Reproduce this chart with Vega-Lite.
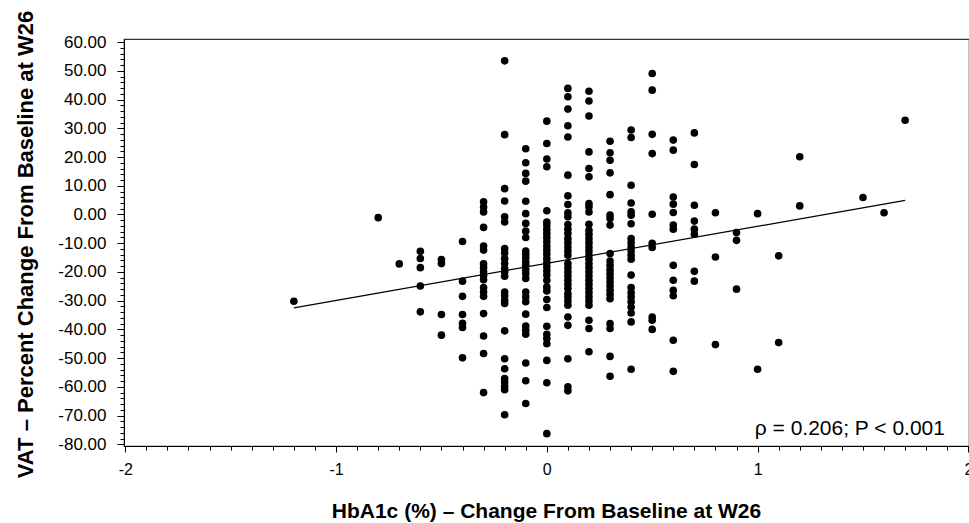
{
  "$schema": "https://vega.github.io/schema/vega-lite/v6.json",
  "width": 845,
  "height": 407,
  "autosize": "none",
  "padding": {"left": 124, "top": 39, "right": 0, "bottom": 77},
  "background": "white",
  "config": {
    "view": {"stroke": "#333333", "strokeWidth": 1.2},
    "font": "Liberation Sans"
  },
  "resolve": {"axis": {"x": "independent", "y": "independent"}},
  "datasets": {
    "pts": [
      {"x": -1.2, "y": -30.2},
      {"x": -0.8, "y": -1.1},
      {"x": -0.7, "y": -17.2},
      {"x": -0.6, "y": -12.8}, {"x": -0.6, "y": -15.3}, {"x": -0.6, "y": -18.5}, {"x": -0.6, "y": -24.9}, {"x": -0.6, "y": -33.9},
      {"x": -0.5, "y": -15.7}, {"x": -0.5, "y": -17.1}, {"x": -0.5, "y": -34.8}, {"x": -0.5, "y": -42.0},
      {"x": -0.4, "y": -9.4}, {"x": -0.4, "y": -23.2}, {"x": -0.4, "y": -28.5}, {"x": -0.4, "y": -34.8}, {"x": -0.4, "y": -37.9}, {"x": -0.4, "y": -39.3}, {"x": -0.4, "y": -49.9},
      {"x": -0.3, "y": 4.4}, {"x": -0.3, "y": 2.6}, {"x": -0.3, "y": 0.9}, {"x": -0.3, "y": -4.5}, {"x": -0.3, "y": -11.0}, {"x": -0.3, "y": -12.4}, {"x": -0.3, "y": -17.2}, {"x": -0.3, "y": -18.5}, {"x": -0.3, "y": -19.9}, {"x": -0.3, "y": -21.3}, {"x": -0.3, "y": -22.7}, {"x": -0.3, "y": -25.4}, {"x": -0.3, "y": -27.0}, {"x": -0.3, "y": -28.5}, {"x": -0.3, "y": -34.5}, {"x": -0.3, "y": -42.3}, {"x": -0.3, "y": -48.4}, {"x": -0.3, "y": -62.0},
      {"x": -0.2, "y": 53.5}, {"x": -0.2, "y": 27.8}, {"x": -0.2, "y": 9.0}, {"x": -0.2, "y": 4.7}, {"x": -0.2, "y": -0.8}, {"x": -0.2, "y": -2.6}, {"x": -0.2, "y": -11.9}, {"x": -0.2, "y": -13.4}, {"x": -0.2, "y": -15.3}, {"x": -0.2, "y": -17.1}, {"x": -0.2, "y": -18.8}, {"x": -0.2, "y": -20.0}, {"x": -0.2, "y": -21.5}, {"x": -0.2, "y": -27.0}, {"x": -0.2, "y": -28.3}, {"x": -0.2, "y": -29.9}, {"x": -0.2, "y": -31.0}, {"x": -0.2, "y": -40.5}, {"x": -0.2, "y": -50.2}, {"x": -0.2, "y": -53.7}, {"x": -0.2, "y": -57.1}, {"x": -0.2, "y": -58.3}, {"x": -0.2, "y": -59.8}, {"x": -0.2, "y": -61.0}, {"x": -0.2, "y": -69.7},
      {"x": -0.1, "y": 22.9}, {"x": -0.1, "y": 18.0}, {"x": -0.1, "y": 14.3}, {"x": -0.1, "y": 11.6}, {"x": -0.1, "y": 4.6}, {"x": -0.1, "y": 0.3}, {"x": -0.1, "y": -3.1}, {"x": -0.1, "y": -5.8}, {"x": -0.1, "y": -8.0}, {"x": -0.1, "y": -12.7}, {"x": -0.1, "y": -13.8}, {"x": -0.1, "y": -15.1}, {"x": -0.1, "y": -16.5}, {"x": -0.1, "y": -17.7}, {"x": -0.1, "y": -19.2}, {"x": -0.1, "y": -20.6}, {"x": -0.1, "y": -22.3}, {"x": -0.1, "y": -27.0}, {"x": -0.1, "y": -28.7}, {"x": -0.1, "y": -30.4}, {"x": -0.1, "y": -34.7}, {"x": -0.1, "y": -38.8}, {"x": -0.1, "y": -40.3}, {"x": -0.1, "y": -41.7}, {"x": -0.1, "y": -51.7}, {"x": -0.1, "y": -57.9}, {"x": -0.1, "y": -65.8},
      {"x": 0, "y": 32.5}, {"x": 0, "y": 24.7}, {"x": 0, "y": 19.3}, {"x": 0, "y": 16.6}, {"x": 0, "y": 1.3}, {"x": 0, "y": -2.6}, {"x": 0, "y": -3.7}, {"x": 0, "y": -5.2}, {"x": 0, "y": -6.6}, {"x": 0, "y": -8.0}, {"x": 0, "y": -9.5}, {"x": 0, "y": -11.0}, {"x": 0, "y": -12.4}, {"x": 0, "y": -13.8}, {"x": 0, "y": -15.3}, {"x": 0, "y": -16.7}, {"x": 0, "y": -18.2}, {"x": 0, "y": -19.6}, {"x": 0, "y": -21.1}, {"x": 0, "y": -22.9}, {"x": 0, "y": -25.2}, {"x": 0, "y": -26.6}, {"x": 0, "y": -29.6}, {"x": 0, "y": -32.4}, {"x": 0, "y": -38.9}, {"x": 0, "y": -41.7}, {"x": 0, "y": -43.2}, {"x": 0, "y": -45.0}, {"x": 0, "y": -50.8}, {"x": 0, "y": -58.6}, {"x": 0, "y": -76.3},
      {"x": 0.1, "y": 43.9}, {"x": 0.1, "y": 41.0}, {"x": 0.1, "y": 36.7}, {"x": 0.1, "y": 30.9}, {"x": 0.1, "y": 27.0}, {"x": 0.1, "y": 13.7}, {"x": 0.1, "y": 6.5}, {"x": 0.1, "y": 3.5}, {"x": 0.1, "y": 0.6}, {"x": 0.1, "y": -0.8}, {"x": 0.1, "y": -3.5}, {"x": 0.1, "y": -5.1}, {"x": 0.1, "y": -6.6}, {"x": 0.1, "y": -8.4}, {"x": 0.1, "y": -9.8}, {"x": 0.1, "y": -11.3}, {"x": 0.1, "y": -12.7}, {"x": 0.1, "y": -14.2}, {"x": 0.1, "y": -17.1}, {"x": 0.1, "y": -18.5}, {"x": 0.1, "y": -20.0}, {"x": 0.1, "y": -21.4}, {"x": 0.1, "y": -22.9}, {"x": 0.1, "y": -24.3}, {"x": 0.1, "y": -25.8}, {"x": 0.1, "y": -27.5}, {"x": 0.1, "y": -28.7}, {"x": 0.1, "y": -30.1}, {"x": 0.1, "y": -31.6}, {"x": 0.1, "y": -35.7}, {"x": 0.1, "y": -38.6}, {"x": 0.1, "y": -50.2}, {"x": 0.1, "y": -60.0}, {"x": 0.1, "y": -61.4},
      {"x": 0.2, "y": 42.9}, {"x": 0.2, "y": 39.5}, {"x": 0.2, "y": 34.3}, {"x": 0.2, "y": 21.8}, {"x": 0.2, "y": 16.0}, {"x": 0.2, "y": 13.1}, {"x": 0.2, "y": 3.8}, {"x": 0.2, "y": 2.7}, {"x": 0.2, "y": 0.9}, {"x": 0.2, "y": -3.4}, {"x": 0.2, "y": -5.5}, {"x": 0.2, "y": -6.9}, {"x": 0.2, "y": -8.4}, {"x": 0.2, "y": -9.8}, {"x": 0.2, "y": -11.3}, {"x": 0.2, "y": -12.7}, {"x": 0.2, "y": -14.2}, {"x": 0.2, "y": -15.6}, {"x": 0.2, "y": -17.1}, {"x": 0.2, "y": -18.5}, {"x": 0.2, "y": -20.0}, {"x": 0.2, "y": -21.4}, {"x": 0.2, "y": -22.9}, {"x": 0.2, "y": -24.3}, {"x": 0.2, "y": -25.8}, {"x": 0.2, "y": -27.2}, {"x": 0.2, "y": -28.7}, {"x": 0.2, "y": -30.1}, {"x": 0.2, "y": -31.6}, {"x": 0.2, "y": -36.8}, {"x": 0.2, "y": -39.7}, {"x": 0.2, "y": -47.8},
      {"x": 0.3, "y": 25.5}, {"x": 0.3, "y": 21.5}, {"x": 0.3, "y": 18.9}, {"x": 0.3, "y": 14.5}, {"x": 0.3, "y": 6.9}, {"x": 0.3, "y": -0.2}, {"x": 0.3, "y": -1.4}, {"x": 0.3, "y": -3.7}, {"x": 0.3, "y": -13.6}, {"x": 0.3, "y": -16.2}, {"x": 0.3, "y": -17.7}, {"x": 0.3, "y": -19.2}, {"x": 0.3, "y": -20.6}, {"x": 0.3, "y": -22.0}, {"x": 0.3, "y": -23.5}, {"x": 0.3, "y": -24.9}, {"x": 0.3, "y": -26.4}, {"x": 0.3, "y": -27.8}, {"x": 0.3, "y": -29.3}, {"x": 0.3, "y": -38.0}, {"x": 0.3, "y": -39.7}, {"x": 0.3, "y": -49.4}, {"x": 0.3, "y": -56.3},
      {"x": 0.4, "y": 29.4}, {"x": 0.4, "y": 26.8}, {"x": 0.4, "y": 10.2}, {"x": 0.4, "y": 4.0}, {"x": 0.4, "y": 0.9}, {"x": 0.4, "y": -0.3}, {"x": 0.4, "y": -3.2}, {"x": 0.4, "y": -8.4}, {"x": 0.4, "y": -9.8}, {"x": 0.4, "y": -11.3}, {"x": 0.4, "y": -12.7}, {"x": 0.4, "y": -14.2}, {"x": 0.4, "y": -15.6}, {"x": 0.4, "y": -21.1}, {"x": 0.4, "y": -25.4}, {"x": 0.4, "y": -27.2}, {"x": 0.4, "y": -28.7}, {"x": 0.4, "y": -30.4}, {"x": 0.4, "y": -32.2}, {"x": 0.4, "y": -34.3}, {"x": 0.4, "y": -37.4}, {"x": 0.4, "y": -53.9},
      {"x": 0.5, "y": 49.1}, {"x": 0.5, "y": 43.3}, {"x": 0.5, "y": 27.9}, {"x": 0.5, "y": 21.2}, {"x": 0.5, "y": 0.1}, {"x": 0.5, "y": -10.0}, {"x": 0.5, "y": -11.5}, {"x": 0.5, "y": -35.7}, {"x": 0.5, "y": -36.8}, {"x": 0.5, "y": -40.0},
      {"x": 0.6, "y": 25.9}, {"x": 0.6, "y": 22.4}, {"x": 0.6, "y": 6.1}, {"x": 0.6, "y": 3.6}, {"x": 0.6, "y": 0.7}, {"x": 0.6, "y": -3.7}, {"x": 0.6, "y": -5.1}, {"x": 0.6, "y": -17.7}, {"x": 0.6, "y": -22.9}, {"x": 0.6, "y": -26.4}, {"x": 0.6, "y": -28.3}, {"x": 0.6, "y": -43.8}, {"x": 0.6, "y": -54.6},
      {"x": 0.7, "y": 28.4}, {"x": 0.7, "y": 17.4}, {"x": 0.7, "y": 3.2}, {"x": 0.7, "y": -2.3}, {"x": 0.7, "y": -5.1}, {"x": 0.7, "y": -6.9}, {"x": 0.7, "y": -19.8}, {"x": 0.7, "y": -23.2},
      {"x": 0.8, "y": 0.6}, {"x": 0.8, "y": -14.8}, {"x": 0.8, "y": -45.3},
      {"x": 0.9, "y": -6.3}, {"x": 0.9, "y": -9.0}, {"x": 0.9, "y": -26.0},
      {"x": 1.0, "y": 0.3}, {"x": 1.0, "y": -53.9},
      {"x": 1.1, "y": -14.4}, {"x": 1.1, "y": -44.6},
      {"x": 1.2, "y": 20.1}, {"x": 1.2, "y": 3.0},
      {"x": 1.5, "y": 5.9},
      {"x": 1.6, "y": 0.6},
      {"x": 1.7, "y": 32.8}
    ],
    "fit": [
      {"x": -1.2, "y": -32.5},
      {"x": 1.7, "y": 4.9}
    ],
    "note": [
      {"x": 1.889, "y": -76.9, "label": "ρ = 0.206; P < 0.001"}
    ]
  },
  "layer": [
    {
      "data": {"name": "pts"},
      "mark": {"type": "circle", "size": 58, "color": "black", "opacity": 1},
      "encoding": {
        "x": {
          "field": "x", "type": "quantitative",
          "scale": {"domain": [-2.006, 2.003], "nice": false, "zero": false},
          "axis": {
            "orient": "bottom",
            "values": [-2, -1, 0, 1, 2],
            "format": "d",
            "labelExpr": "replace(datum.label, '\u2212', '-')",
            "tickSize": 6,
            "tickColor": "black",
            "domainColor": "black",
            "labelColor": "black",
            "labelFont": "Liberation Sans",
            "labelFontSize": 16,
            "labelPadding": 9,
            "labelFlush": false,
            "labelOverlap": false,
            "grid": false,
            "title": "HbA1c (%) – Change From Baseline at W26",
            "titleFont": "Liberation Sans",
            "titleFontSize": 21,
            "titleFontWeight": "bold",
            "titleColor": "black",
            "titleX": 422,
            "titleY": 71,
            "titleAlign": "center",
            "titleBaseline": "alphabetic"
          }
        },
        "y": {
          "field": "y", "type": "quantitative",
          "scale": {"domain": [-80.6, 61.1], "nice": false, "zero": false},
          "axis": {
            "orient": "left",
            "values": [-80, -70, -60, -50, -40, -30, -20, -10, 0, 10, 20, 30, 40, 50, 60],
            "format": ".2f",
            "labelExpr": "replace(datum.label, '\u2212', '-')",
            "tickSize": 7,
            "tickColor": "black",
            "domainColor": "black",
            "labelColor": "black",
            "labelFont": "Liberation Sans",
            "labelFontSize": 17,
            "labelPadding": 11,
            "labelFlush": false,
            "labelOverlap": false,
            "grid": false,
            "title": "VAT – Percent Change From Baseline at W26",
            "titleFont": "Liberation Sans",
            "titleFontSize": 22,
            "titleFontWeight": "bold",
            "titleColor": "black",
            "titleAngle": -90,
            "titleX": -92,
            "titleY": 205,
            "titleAlign": "center",
            "titleBaseline": "alphabetic"
          }
        }
      }
    },
    {
      "data": {"name": "fit"},
      "mark": {"type": "line", "color": "black", "strokeWidth": 1.2},
      "encoding": {
        "x": {
          "field": "x", "type": "quantitative",
          "axis": {
            "orient": "bottom",
            "values": [-2, -1.9, -1.8, -1.7, -1.6, -1.5, -1.4, -1.3, -1.2, -1.1, -1, -0.9, -0.8, -0.7, -0.6, -0.5, -0.4, -0.3, -0.2, -0.1, 0, 0.1, 0.2, 0.3, 0.4, 0.5, 0.6, 0.7, 0.8, 0.9, 1, 1.1, 1.2, 1.3, 1.4, 1.5, 1.6, 1.7, 1.8, 1.9, 2],
            "labels": false,
            "domain": false,
            "grid": false,
            "title": null,
            "tickSize": 4,
            "tickColor": "black"
          }
        },
        "y": {
          "field": "y", "type": "quantitative",
          "axis": {
            "orient": "left",
            "values": [-80, -78, -76, -74, -72, -70, -68, -66, -64, -62, -60, -58, -56, -54, -52, -50, -48, -46, -44, -42, -40, -38, -36, -34, -32, -30, -28, -26, -24, -22, -20, -18, -16, -14, -12, -10, -8, -6, -4, -2, 0, 2, 4, 6, 8, 10, 12, 14, 16, 18, 20, 22, 24, 26, 28, 30, 32, 34, 36, 38, 40, 42, 44, 46, 48, 50, 52, 54, 56, 58, 60],
            "labels": false,
            "domain": false,
            "grid": false,
            "title": null,
            "tickSize": 4,
            "tickColor": "black"
          }
        }
      }
    },
    {
      "data": {"name": "note"},
      "mark": {"type": "text", "align": "right", "baseline": "alphabetic", "font": "Liberation Sans", "fontSize": 21, "color": "black"},
      "encoding": {
        "x": {"field": "x", "type": "quantitative", "axis": null},
        "y": {"field": "y", "type": "quantitative", "axis": null},
        "text": {"field": "label"}
      }
    }
  ]
}
